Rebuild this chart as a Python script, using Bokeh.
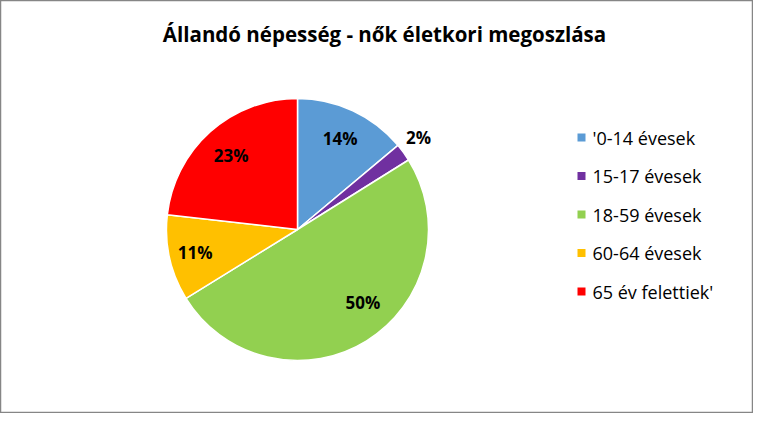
import math
from bokeh.plotting import figure
from bokeh.models import Range1d, ColumnDataSource
from bokeh.core.properties import value
from bokeh.embed import file_html
from bokeh.resources import INLINE

title = "Állandó népesség - nők életkori megoszlása"
categories = ["'0-14 évesek", "15-17 évesek", "18-59 évesek", "60-64 évesek", "65 év felettiek'"]
shares = [13.9, 2.2, 50.1, 10.6, 23.2]
colors = ["#5B9BD5", "#7030A0", "#92D050", "#FFC000", "#FF0000"]

W, H = 753, 413
p = figure(width=W, height=H, output_backend="svg", toolbar_location=None,
           x_range=Range1d(0, W), y_range=Range1d(-H, 0),
           min_border=0, outline_line_color="#868686", outline_line_width=1.5)
p.axis.visible = False
p.grid.visible = False
p.background_fill_color = "white"
p.border_fill_color = "white"

FONT = "Open Sans"
cx, cy, r = 297, -229, 131
total = sum(shares)
starts, ends, lx, ly, labels = [], [], [], [], []
cum = 0.0
label_r = [0.77, 1.16, 0.75, 0.80, 0.76]
label_pos = [0.5, 0.35, 0.445, 0.5, 0.5]
for i, s in enumerate(shares):
    a0 = math.pi / 2 - 2 * math.pi * cum / total
    cum += s
    a1 = math.pi / 2 - 2 * math.pi * cum / total
    starts.append(a0)
    ends.append(a1)
    mid = a0 + (a1 - a0) * label_pos[i]
    lx.append(cx + label_r[i] * r * math.cos(mid))
    ly.append(cy + label_r[i] * r * math.sin(mid))
    labels.append(f"{round(s / total * 100 + 1e-9)}%")

src = ColumnDataSource(dict(start=starts, end=ends, color=colors))
p.wedge(x=cx, y=cy, radius=r, start_angle="start", end_angle="end", direction="clock",
        fill_color="color", line_color="white", line_width=1.5, source=src)

p.text(x=lx, y=ly, text=labels, text_align="center", text_baseline="middle",
       text_font=value(FONT), text_font_style="bold", text_font_size="17px", text_color="#000000")

p.text(x=[384], y=[-33], text=[title], text_align="center", text_baseline="middle",
       text_font=value(FONT), text_font_style="bold", text_font_size="20.5px", text_color="#000000")

leg_x, leg_y0, leg_dy = 581, -137, -38.5
ys = [leg_y0 + i * leg_dy for i in range(len(categories))]
p.scatter(x=[leg_x] * len(categories), y=ys, marker="square", size=8,
          fill_color=colors, line_color=None)
p.text(x=[leg_x + 11] * len(categories), y=ys, text=categories, text_align="left",
       text_baseline="middle", text_font=value(FONT), text_font_size="18px", text_color="#000000")

open("out.html", "w").write(file_html(p, INLINE))
